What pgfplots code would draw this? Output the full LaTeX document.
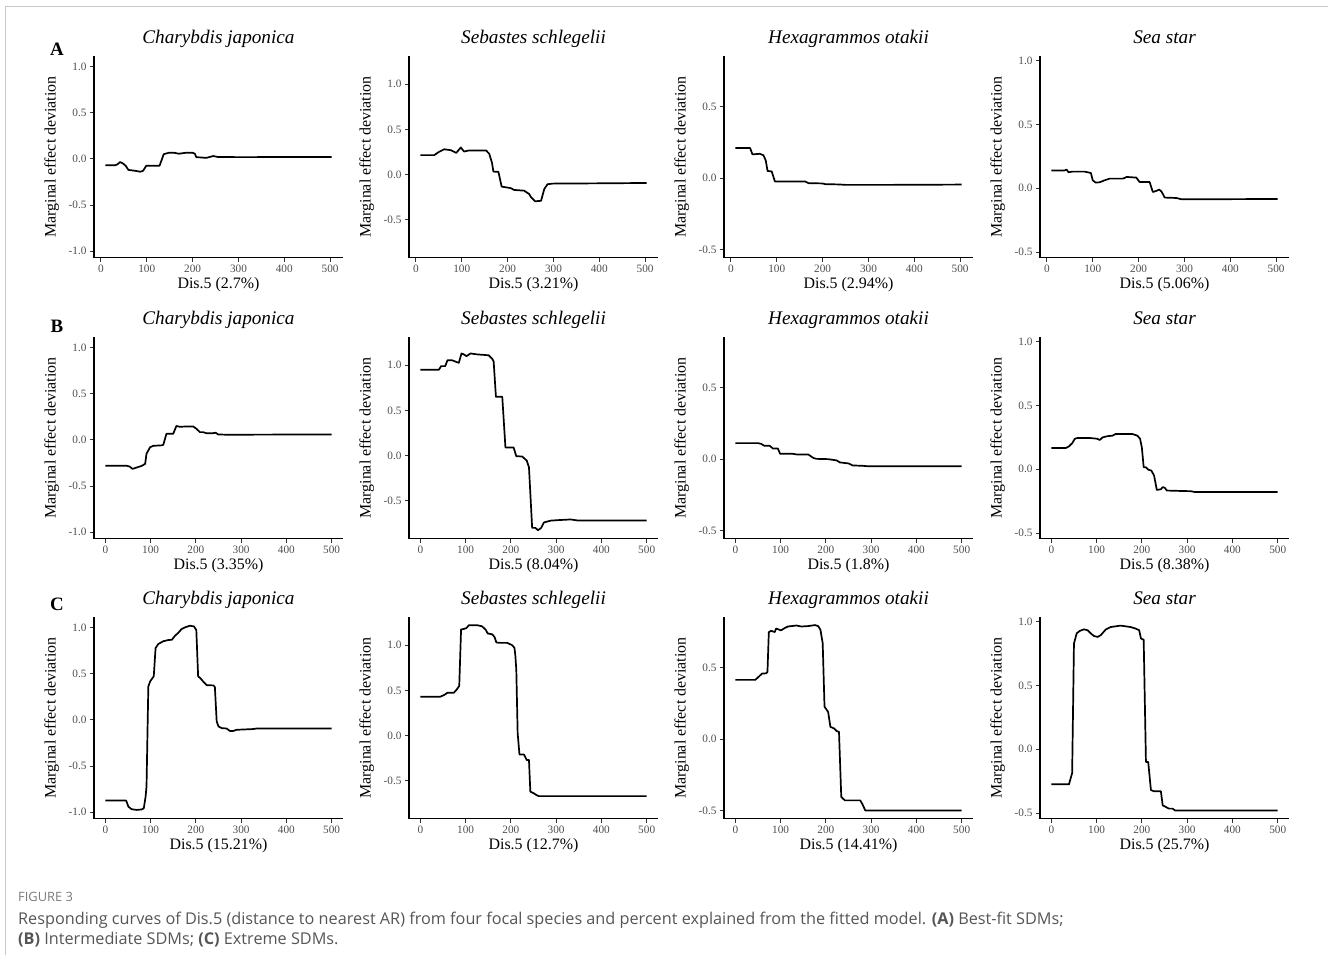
\documentclass[border=0pt]{standalone}
\usepackage{pgfplots}
\pgfplotsset{compat=1.18}
\usepackage{fontspec}
\setmainfont{Liberation Serif}
\newfontfamily\capfont{Open Sans}
\definecolor{tickgrey}{HTML}{4D4D4D}
\definecolor{markgrey}{HTML}{333333}
\definecolor{framegrey}{HTML}{C8C8D2}
\definecolor{capgrey}{HTML}{555555}
\definecolor{headgrey}{HTML}{7A7A7A}

\pgfplotsset{
  sdm/.style={
    scale only axis, width=249bp, height=201.5bp,
    axis x line*=bottom, axis y line*=left,
    axis line style={-, black, line width=1.2bp},
    tick align=outside, major tick length=4bp,
    tick style={color=markgrey, line width=0.9bp},
    /pgf/number format/assume math mode=true,
    tick label style={font=\fontsize{11.3}{13}\selectfont, text=tickgrey},
    xtick={0,100,200,300,400,500},
    xticklabels={0,100,200,300,400,500},
    every axis title/.style={at={(axis description cs:0.5,1)}, anchor=base, yshift=12.5bp, font=\fontsize{19.3}{22}\selectfont\itshape},
    every axis x label/.style={at={(axis description cs:0.5,0)}, anchor=center, yshift=-27bp, font=\fontsize{16}{18}\selectfont},
    every axis y label/.style={at={(axis description cs:-0.17,0.5)}, anchor=center, rotate=90, font=\fontsize{16}{18}\selectfont},
    ylabel={Marginal effect deviation},
    clip=false,
  },
  rowA/.style={xmin=-15, xmax=528},
  rowB/.style={xmin=-25, xmax=525},
  cj/.style={ymin=-1.07, ymax=1.11, ytick={-1,-0.5,0,0.5,1}, yticklabels={-1.0,-0.5,0.0,0.5,1.0}},
  ss/.style={ymin=-0.92, ymax=1.31, ytick={-0.5,0,0.5,1}, yticklabels={-0.5,0.0,0.5,1.0}},
  ho/.style={ymin=-0.556, ymax=0.852, ytick={-0.5,0,0.5}, yticklabels={-0.5,0.0,0.5}},
  st/.style={ymin=-0.545, ymax=1.037, ytick={-0.5,0,0.5,1}, yticklabels={-0.5,0.0,0.5,1.0}},
  curve/.style={black, line width=1.7bp, line join=round, no markers},
}

\begin{document}
\begin{tikzpicture}
\useasboundingbox (0,0) rectangle (1328bp,-955bp);
\draw[framegrey, line width=1bp] (5bp,-955bp) -- (5bp,-6bp) -- (1328bp,-6bp);

% ---------------- Row A: best-fit SDMs ----------------
\begin{axis}[sdm, rowA, cj, at={(94bp,-257.7bp)}, anchor=south west,
  title={Charybdis japonica}, xlabel={Dis.5 (2.7\%)}]
\addplot[curve] coordinates {(10,-0.07) (31,-0.07) (36,-0.06) (42,-0.035) (48,-0.05) (54,-0.075) (60,-0.12) (75,-0.13) (86,-0.14) (92,-0.13) (99,-0.075) (128,-0.075) (132,-0.02) (137,0.05) (148,0.065) (160,0.065) (170,0.055) (185,0.065) (200,0.065) (205,0.055) (208,0.018) (230,0.01) (245,0.03) (255,0.02) (300,0.018) (503,0.02)};
\end{axis}

\begin{axis}[sdm, rowA, ss, at={(409bp,-257.7bp)}, anchor=south west,
  title={Sebastes schlegelii}, xlabel={Dis.5 (3.21\%)}]
\addplot[curve] coordinates {(10,0.215) (40,0.215) (50,0.25) (62,0.28) (76,0.27) (88,0.24) (98,0.30) (105,0.255) (116,0.267) (153,0.267) (160,0.23) (166,0.13) (169,0.033) (180,0.03) (187,-0.133) (207,-0.15) (214,-0.17) (236,-0.178) (247,-0.215) (251,-0.25) (260,-0.296) (273,-0.29) (280,-0.16) (287,-0.107) (298,-0.1) (400,-0.097) (503,-0.093)};
\end{axis}

\begin{axis}[sdm, rowA, ho, at={(724bp,-257.7bp)}, anchor=south west,
  title={Hexagrammos otakii}, xlabel={Dis.5 (2.94\%)}]
\addplot[curve] coordinates {(10,0.21) (42,0.21) (47,0.166) (63,0.17) (71,0.16) (76,0.124) (80,0.05) (89,0.047) (96,-0.023) (162,-0.023) (169,-0.035) (199,-0.037) (206,-0.042) (235,-0.044) (250,-0.047) (350,-0.047) (503,-0.045)};
\end{axis}

\begin{axis}[sdm, rowA, st, at={(1040bp,-257.7bp)}, anchor=south west,
  title={Sea star}, xlabel={Dis.5 (5.06\%)}]
\addplot[curve] coordinates {(10,0.139) (38,0.139) (43,0.147) (47,0.126) (56,0.131) (82,0.131) (96,0.12) (100,0.063) (106,0.045) (115,0.047) (126,0.063) (137,0.076) (166,0.076) (174,0.089) (195,0.084) (202,0.05) (224,0.05) (231,-0.029) (239,-0.02) (245,-0.01) (250,-0.026) (257,-0.073) (282,-0.076) (293,-0.086) (350,-0.086) (503,-0.084)};
\end{axis}

% ---------------- Row B: intermediate SDMs ----------------
\begin{axis}[sdm, rowB, cj, at={(94bp,-538.7bp)}, anchor=south west,
  title={Charybdis japonica}, xlabel={Dis.5 (3.35\%)}]
\addplot[curve] coordinates {(0,-0.28) (47,-0.28) (54,-0.29) (60,-0.315) (69,-0.30) (80,-0.283) (88,-0.26) (91,-0.15) (99,-0.08) (106,-0.065) (124,-0.06) (128,-0.055) (135,0.065) (150,0.065) (157,0.15) (165,0.14) (179,0.145) (194,0.145) (201,0.12) (209,0.083) (216,0.083) (224,0.07) (238,0.072) (244,0.076) (249,0.058) (268,0.055) (500,0.058)};
\end{axis}

\begin{axis}[sdm, rowB, ss, at={(409bp,-538.7bp)}, anchor=south west,
  title={Sebastes schlegelii}, xlabel={Dis.5 (8.04\%)}]
\addplot[curve] coordinates {(0,0.95) (41,0.95) (46,0.99) (55,0.99) (60,1.055) (70,1.055) (85,1.026) (91,1.13) (96,1.12) (102,1.10) (111,1.13) (125,1.12) (151,1.11) (159,1.07) (162,1.04) (167,0.65) (181,0.65) (188,0.09) (206,0.09) (212,-0.007) (225,-0.01) (235,-0.055) (240,-0.13) (247,-0.80) (254,-0.80) (260,-0.826) (267,-0.80) (273,-0.74) (288,-0.72) (302,-0.715) (332,-0.707) (347,-0.718) (500,-0.718)};
\end{axis}

\begin{axis}[sdm, rowB, ho, at={(724bp,-538.7bp)}, anchor=south west,
  title={Hexagrammos otakii}, xlabel={Dis.5 (1.8\%)}]
\addplot[curve] coordinates {(0,0.112) (50,0.112) (57,0.107) (64,0.093) (76,0.093) (83,0.074) (94,0.074) (99,0.037) (127,0.037) (135,0.033) (161,0.033) (172,0.009) (179,0.002) (205,0) (224,-0.009) (231,-0.023) (250,-0.03) (259,-0.044) (283,-0.047) (290,-0.049) (500,-0.049)};
\end{axis}

\begin{axis}[sdm, rowB, st, at={(1040bp,-538.7bp)}, anchor=south west,
  title={Sea star}, xlabel={Dis.5 (8.38\%)}]
\addplot[curve] coordinates {(0,0.167) (32,0.167) (39,0.18) (46,0.204) (52,0.24) (57,0.245) (87,0.245) (101,0.24) (107,0.23) (113,0.25) (124,0.26) (135,0.264) (142,0.277) (179,0.277) (190,0.264) (196,0.24) (200,0.17) (204,0.016) (209,0.016) (214,-0.003) (221,-0.01) (227,-0.05) (233,-0.162) (242,-0.157) (246,-0.14) (251,-0.146) (255,-0.167) (286,-0.17) (308,-0.172) (316,-0.178) (500,-0.178)};
\end{axis}

% ---------------- Row C: extreme SDMs ----------------
\begin{axis}[sdm, rowB, cj, at={(94bp,-818.7bp)}, anchor=south west,
  title={Charybdis japonica}, xlabel={Dis.5 (15.21\%)}]
\addplot[curve] coordinates {(0,-0.874) (46,-0.874) (51,-0.94) (58,-0.967) (69,-0.975) (80,-0.97) (85,-0.957) (89,-0.83) (91,-0.72) (95,0.36) (99,0.415) (104,0.45) (107,0.47) (111,0.776) (117,0.82) (128,0.85) (139,0.863) (147,0.866) (154,0.91) (161,0.94) (168,0.98) (176,1.0) (187,1.018) (196,1.01) (201,0.97) (205,0.47) (210,0.45) (216,0.415) (224,0.375) (239,0.372) (242,0.354) (246,-0.018) (250,-0.072) (257,-0.09) (268,-0.094) (275,-0.12) (283,-0.12) (290,-0.108) (327,-0.1) (334,-0.094) (500,-0.094)};
\end{axis}

\begin{axis}[sdm, rowB, ss, at={(409bp,-818.7bp)}, anchor=south west,
  title={Sebastes schlegelii}, xlabel={Dis.5 (12.7\%)}]
\addplot[curve] coordinates {(0,0.43) (44,0.43) (53,0.45) (60,0.474) (74,0.474) (80,0.507) (86,0.55) (90,1.174) (96,1.18) (102,1.19) (107,1.22) (125,1.222) (136,1.21) (144,1.174) (149,1.13) (159,1.12) (164,1.09) (168,1.03) (177,1.026) (192,1.026) (203,1.0) (208,0.97) (210,0.88) (212,0.73) (215,0.026) (219,-0.21) (229,-0.21) (235,-0.27) (240,-0.27) (243,-0.62) (251,-0.64) (257,-0.66) (262,-0.67) (500,-0.67)};
\end{axis}

\begin{axis}[sdm, rowB, ho, at={(724bp,-818.7bp)}, anchor=south west,
  title={Hexagrammos otakii}, xlabel={Dis.5 (14.41\%)}]
\addplot[curve] coordinates {(0,0.414) (44,0.414) (52,0.437) (59,0.458) (68,0.46) (71,0.47) (74,0.748) (79,0.757) (87,0.748) (90,0.773) (101,0.76) (109,0.776) (116,0.787) (135,0.794) (146,0.787) (161,0.79) (176,0.797) (183,0.79) (188,0.764) (193,0.67) (197,0.227) (205,0.19) (210,0.086) (218,0.075) (224,0.056) (229,0.051) (234,-0.404) (242,-0.428) (276,-0.428) (281,-0.456) (287,-0.498) (500,-0.498)};
\end{axis}

\begin{axis}[sdm, rowB, st, at={(1040bp,-818.7bp)}, anchor=south west,
  title={Sea star}, xlabel={Dis.5 (25.7\%)}]
\addplot[curve] coordinates {(0,-0.275) (39,-0.275) (46,-0.186) (50,0.83) (56,0.91) (63,0.93) (72,0.942) (80,0.935) (87,0.91) (94,0.89) (102,0.882) (109,0.895) (120,0.94) (131,0.96) (153,0.971) (175,0.96) (186,0.948) (194,0.935) (198,0.87) (204,0.86) (209,-0.1) (214,-0.1) (220,-0.32) (227,-0.33) (242,-0.33) (246,-0.44) (253,-0.453) (260,-0.466) (268,-0.466) (273,-0.48) (500,-0.48)};
\end{axis}

% panel letters
\node[anchor=base, font=\fontsize{19}{22}\selectfont\bfseries] at (57bp,-55bp) {A};
\node[anchor=base, font=\fontsize{19}{22}\selectfont\bfseries] at (57bp,-332bp) {B};
\node[anchor=base, font=\fontsize{19}{22}\selectfont\bfseries] at (57bp,-610bp) {C};

% caption
\node[anchor=base west, inner sep=0pt, font=\capfont\fontsize{12.9}{15}\selectfont, text=headgrey] at (18bp,-901bp) {FIGURE 3};
\node[anchor=base west, inner sep=0pt, font=\capfont\fontsize{16.3}{19}\selectfont, text=capgrey] at (18bp,-924bp) {Responding curves of Dis.5 (distance to nearest AR) from four focal species and percent explained from the fitted model. \textbf{(A)} Best-fit SDMs;};
\node[anchor=base west, inner sep=0pt, font=\capfont\fontsize{16.3}{19}\selectfont, text=capgrey] at (18bp,-944bp) {\textbf{(B)} Intermediate SDMs; \textbf{(C)} Extreme SDMs.};
\end{tikzpicture}
\end{document}
